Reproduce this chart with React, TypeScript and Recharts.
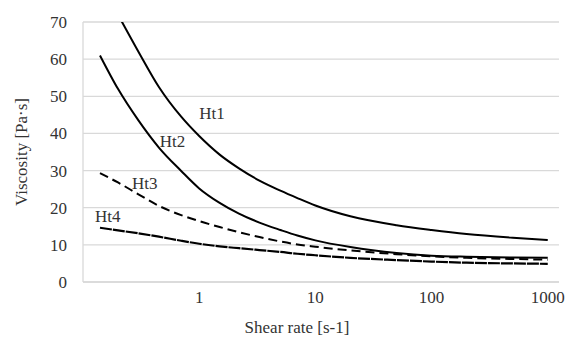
import React from 'react';
import {
  LineChart,
  Line,
  XAxis,
  YAxis,
  CartesianGrid,
  ReferenceDot,
  Label,
} from 'recharts';

// shear rate [1/s] sample points
const shearRate = [0.14, 0.2, 0.3, 0.45, 0.7, 1, 1.5, 2.2, 3.3, 5, 7, 10, 20, 50, 100, 200, 500, 1000];

// viscosity [Pa·s] per sample
const ht1 = [81, 72, 62, 52.5, 44.5, 39.3, 34.3, 30.6, 27.3, 24.6, 22.6, 20.6, 17.7, 15.3, 14, 12.9, 11.9, 11.3];
const ht2 = [61, 52, 43.5, 36.2, 29.9, 25.2, 21.3, 18.4, 16, 14, 12.5, 11.2, 9.4, 7.8, 7.1, 6.8, 6.6, 6.5];
const ht3 = [29.3, 26.8, 23.6, 20.5, 18, 16.4, 14.8, 13.4, 12.1, 10.9, 10.1, 9.5, 8.5, 7.5, 6.9, 6.5, 6.2, 6.0];
const ht4 = [14.6, 13.9, 13.1, 12.2, 11.1, 10.3, 9.6, 9.1, 8.6, 8.1, 7.6, 7.2, 6.5, 5.9, 5.5, 5.2, 5.0, 4.9];

const xTicks = [1, 10, 100, 1000];
const yTicks = [0, 10, 20, 30, 40, 50, 60, 70];

// curve name labels, in data coordinates
const seriesLabels = ['Ht1', 'Ht2', 'Ht3', 'Ht4'];
const labelRate = [1.29, 0.59, 0.34, 0.163];
const labelVisc = [45.5, 38, 26.7, 17.8];

const rows = shearRate.map((rate, i) => ({
  rate,
  ht1: ht1[i],
  ht2: ht2[i],
  ht3: ht3[i],
  ht4: ht4[i],
}));

const font = "'Liberation Serif', 'Times New Roman', serif";
const textColor = '#333333';
const gridColor = '#d9d9d9';

const App: React.FC = () => {
  return (
    <div style={{ position: 'absolute', left: 0, top: 0, width: 565, height: 338, background: '#fff' }}>
      <LineChart
        width={565}
        height={338}
        data={rows}
        margin={{ top: 22, right: 6, left: 0, bottom: 0 }}
      >
        <CartesianGrid vertical={false} stroke={gridColor} strokeWidth={1.3} />
        <XAxis
          dataKey="rate"
          type="number"
          scale="log"
          domain={[0.1, 1250]}
          allowDataOverflow
          ticks={xTicks}
          tickLine={false}
          tickSize={0}
          tickMargin={9}
          height={56}
          axisLine={{ stroke: gridColor, strokeWidth: 1.3 }}
          tick={{ fontFamily: font, fontSize: 17, fill: textColor }}
        >
          <Label
            content={() => (
              <text
                x={297}
                y={333}
                textAnchor="middle"
                fontFamily={font}
                fontSize={17}
                fill={textColor}
              >
                Shear rate [s-1]
              </text>
            )}
          />
        </XAxis>
        <YAxis
          type="number"
          domain={[0, 70]}
          allowDataOverflow
          ticks={yTicks}
          width={83}
          tickLine={false}
          tickSize={0}
          tickMargin={16}
          axisLine={{ stroke: gridColor, strokeWidth: 1.3 }}
          tick={{ fontFamily: font, fontSize: 17, fill: textColor }}
        >
          <Label
            content={() => (
              <text
                x={21}
                y={152}
                textAnchor="middle"
                dominantBaseline="central"
                transform="rotate(-90 21 152)"
                fontFamily={font}
                fontSize={17}
                fill={textColor}
              >
                Viscosity [Pa·s]
              </text>
            )}
          />
        </YAxis>
        <Line type="monotone" dataKey="ht1" stroke="#000" strokeWidth={2} dot={false} isAnimationActive={false} />
        <Line type="monotone" dataKey="ht2" stroke="#000" strokeWidth={2} dot={false} isAnimationActive={false} />
        <Line
          type="monotone"
          dataKey="ht3"
          stroke="#000"
          strokeWidth={2}
          strokeDasharray="9 5"
          dot={false}
          isAnimationActive={false}
        />
        <Line
          type="monotone"
          dataKey="ht4"
          stroke="#000"
          strokeWidth={2.2}
          strokeDasharray="12 1"
          dot={false}
          isAnimationActive={false}
        />
        {seriesLabels.map((name, i) => (
          <ReferenceDot
            key={name}
            x={labelRate[i]}
            y={labelVisc[i]}
            r={0}
            fill="none"
            stroke="none"
            label={{
              value: name,
              position: 'center',
              fontFamily: font,
              fontSize: 17,
              fill: textColor,
            }}
          />
        ))}
      </LineChart>
    </div>
  );
};

export default App;
